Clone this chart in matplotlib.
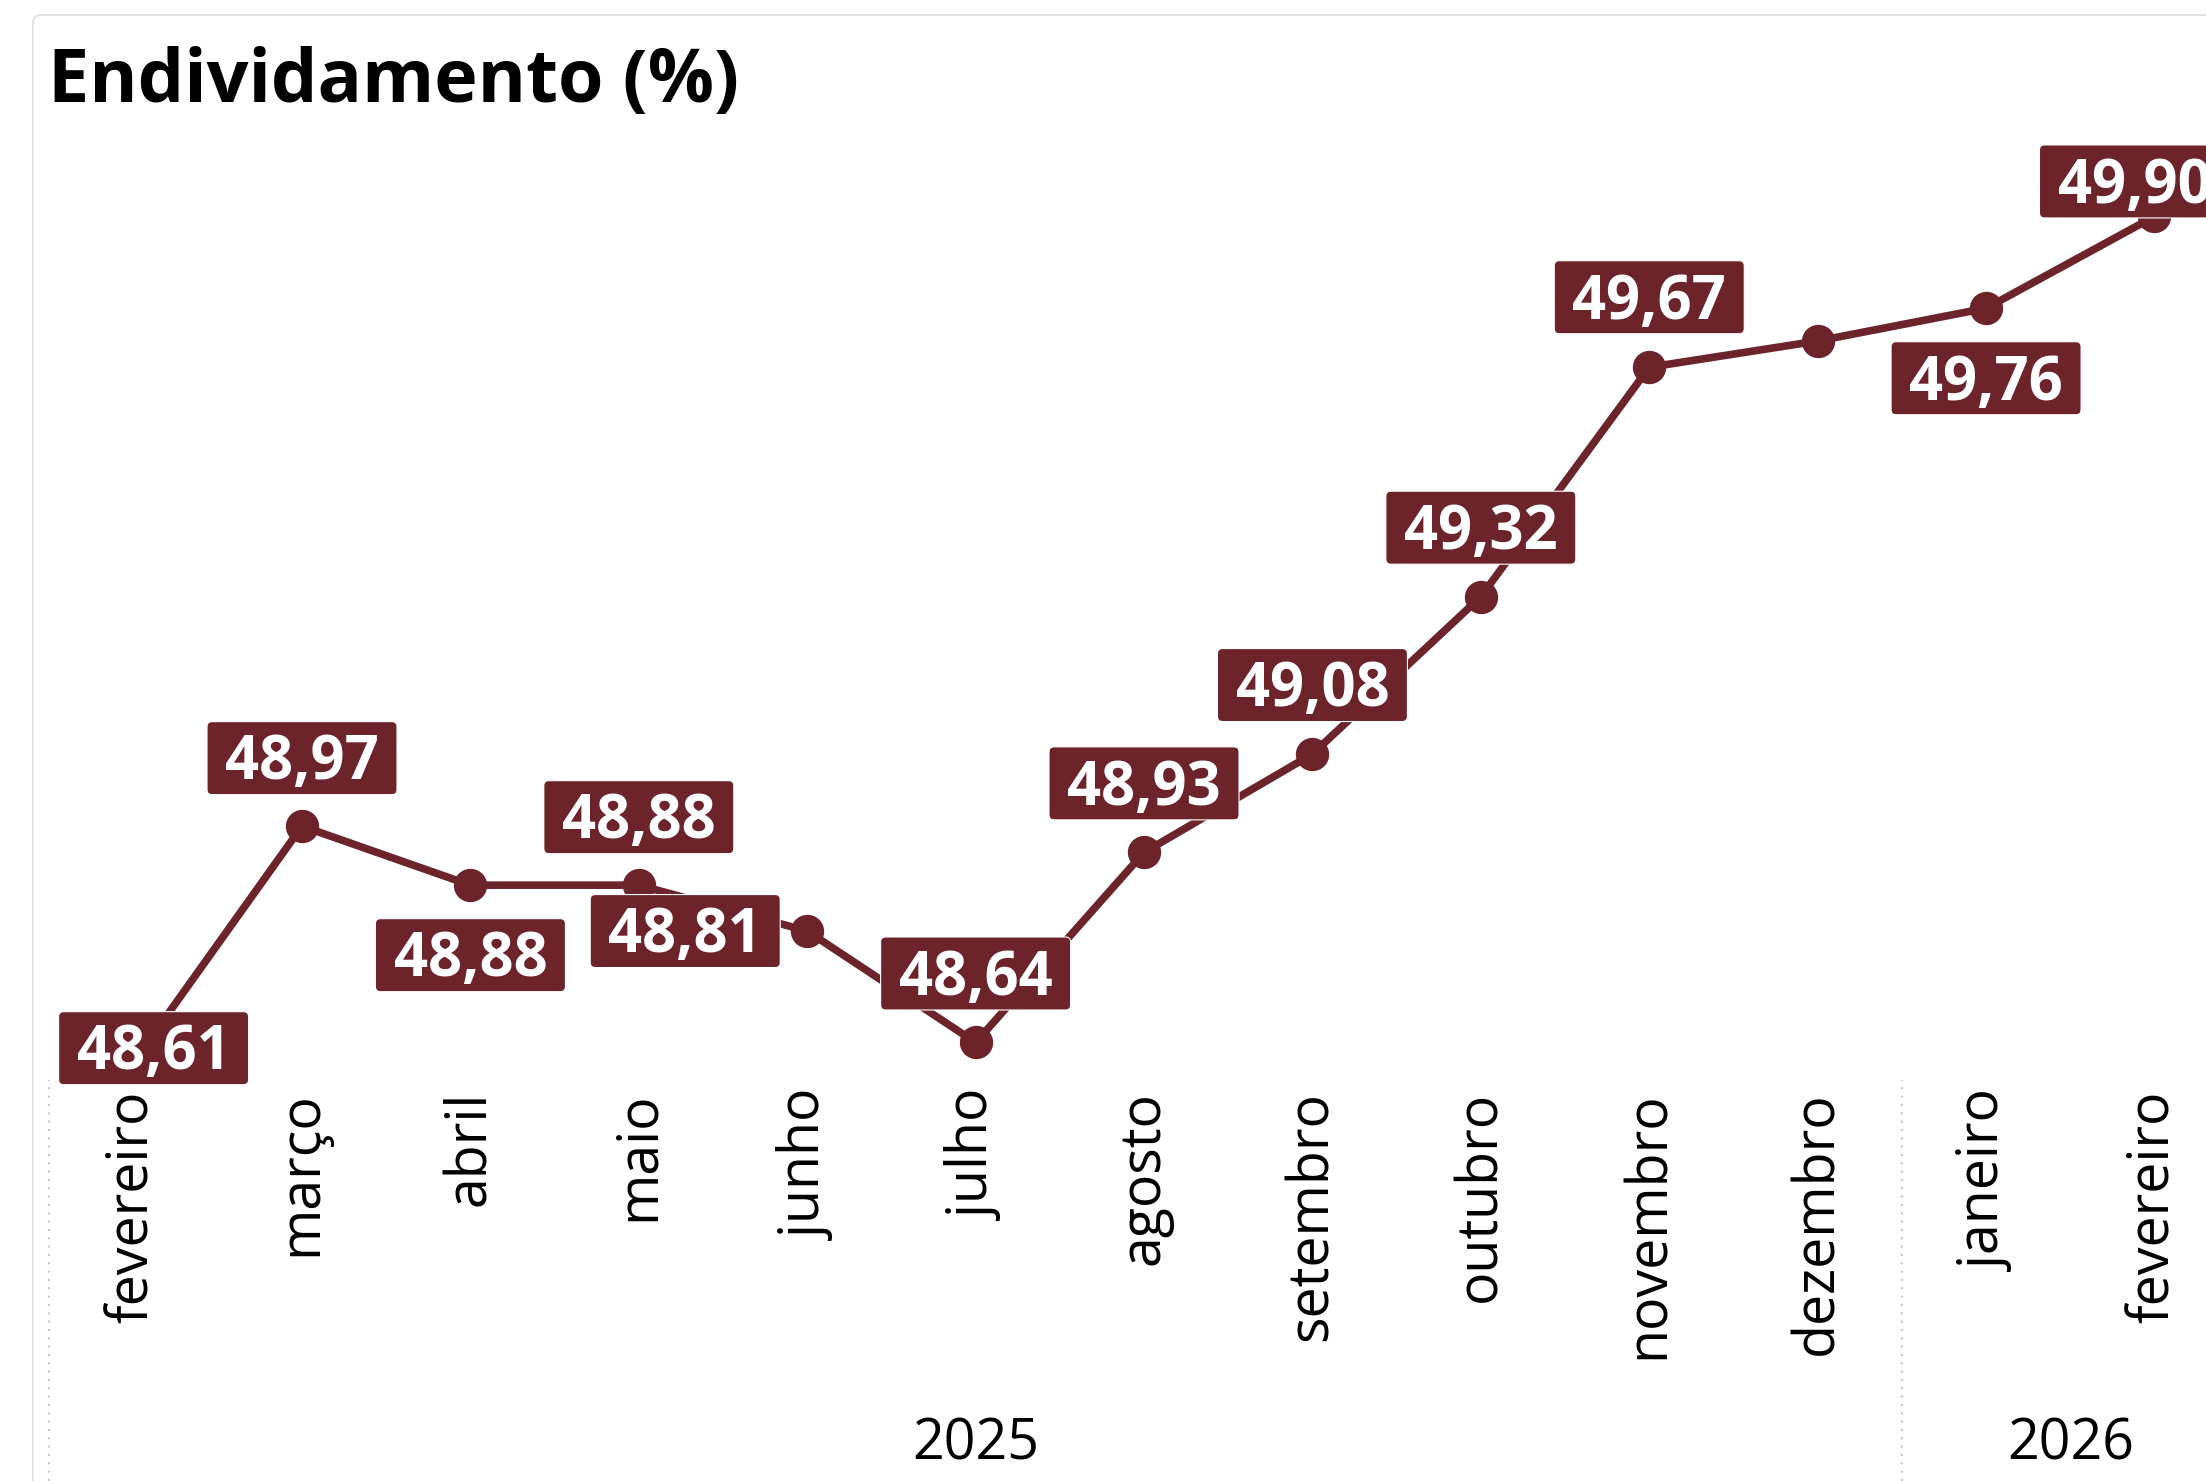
import matplotlib
matplotlib.use("Agg")
import matplotlib.pyplot as plt
from matplotlib.patches import FancyBboxPatch
from matplotlib.transforms import IdentityTransform, blended_transform_factory

# Data
months = ["fevereiro", "março", "abril", "maio", "junho", "julho", "agosto",
          "setembro", "outubro", "novembro", "dezembro", "janeiro", "fevereiro"]
values = [48.61, 48.97, 48.88, 48.88, 48.81, 48.64, 48.93,
          49.08, 49.32, 49.67, 49.71, 49.76, 49.90]
years = ["2025", "2026"]
year_first = [0, 11]
year_last = [10, 12]

# Label placement (pixel offsets from the point, None = no label)
label_offsets = [(20, 14), (0, 68), (0, -70), (0, 68), (-122, 0), (0, 69), (0, 69),
                 (0, 69), (0, 69), (0, 70), None, (0, -70), (-20, 35)]

W, H = 2206, 1481
color = "#6C2329"
plt.rcParams["font.family"] = ["Open Sans", "DejaVu Sans"]

fig = plt.figure(figsize=(W / 100, H / 100), dpi=100)

# card border
card = FancyBboxPatch((33, -30), W + 30, H - 15 + 30,
                      boxstyle="round,pad=0,rounding_size=8",
                      fc="none", ec="#e3e3e3", lw=1.5, transform=IdentityTransform())
fig.add_artist(card)

left_px, top_px, bottom_px = 49.4, 140, 1080
ax = fig.add_axes([left_px / W, 1 - bottom_px / H, (W - left_px) / W, (bottom_px - top_px) / H])
ax.set_xlim(-0.5, 12.306)
ax.set_ylim(48.5828, 50.0166)

x = list(range(len(values)))
ax.plot(x, values, color=color, lw=5.5, marker="o", ms=23, zorder=3, clip_on=False)

ax.set_xticks(x, months, rotation=90, fontsize=40)
ax.tick_params(axis="x", length=0, pad=8)
ax.set_yticks([])
for s in ax.spines.values():
    s.set_visible(False)

# year separators and year labels
blend = blended_transform_factory(ax.transData, fig.transFigure)
for xs in [-0.5, 10.5]:
    ax.plot([xs, xs], [0, 1 - 1080 / H], transform=blend, color="#c8c8c8",
            lw=1.5, linestyle=(0, (1, 3)), clip_on=False)
for yr, a, b in zip(years, year_first, year_last):
    ax.text((a + b) / 2, 1 - 1459 / H, yr, transform=blend, ha="center",
            va="baseline", fontsize=40)

# data labels
label_fs = 43
em_px = label_fs * 100 / 72
for i, (v, off) in enumerate(zip(values, label_offsets)):
    if off is None:
        continue
    px, py = ax.transData.transform((i, v))
    cx, cy = px + off[0], py + off[1]
    box = FancyBboxPatch((cx - 95, cy - 36.5), 190, 73,
                         boxstyle="round,pad=0,rounding_size=5",
                         fc=color, ec="white", lw=0.8,
                         transform=IdentityTransform(), zorder=5)
    fig.add_artist(box)
    txt = f"{v:.2f}".replace(".", ",")
    fig.text(cx, cy - 0.357 * em_px, txt, transform=IdentityTransform(),
             ha="center", va="baseline", color="white", fontsize=label_fs,
             fontweight="bold", zorder=6)

fig.text(48, H - 102, "Endividamento (%)", transform=IdentityTransform(),
         fontsize=53, fontweight="bold", va="baseline")

fig.savefig("out.png", dpi=100)
